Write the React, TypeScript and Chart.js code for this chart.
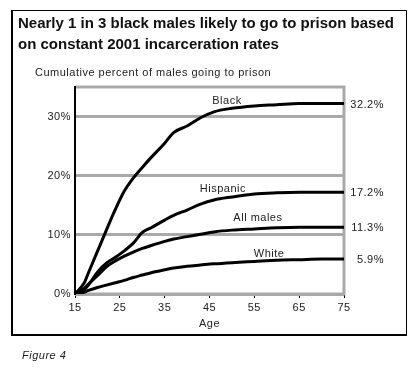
import React, { useEffect, useRef } from "react";
import { Chart, registerables } from "chart.js";

Chart.register(...registerables);

const ages = [15, 17, 18, 20, 22, 24, 26, 28, 30, 32, 35, 37, 40, 43, 46, 50, 55, 60, 65, 70, 75];
const black = [0, 1.8, 3.6, 7.2, 10.8, 14.3, 17.4, 19.6, 21.4, 23.1, 25.5, 27.3, 28.4, 29.8, 30.8, 31.4, 31.8, 32.0, 32.2, 32.2, 32.2];
const hispanic = [0, 0.7, 1.5, 3.7, 5.2, 6.2, 7.3, 8.6, 10.4, 11.2, 12.5, 13.3, 14.2, 15.2, 15.9, 16.4, 16.9, 17.1, 17.2, 17.2, 17.2];
const allMales = [0, 0.9, 1.7, 3.1, 4.6, 5.6, 6.4, 7.1, 7.7, 8.2, 8.9, 9.3, 9.7, 10.1, 10.5, 10.8, 11.0, 11.2, 11.3, 11.3, 11.3];
const white = [0, 0.3, 0.6, 1.1, 1.5, 1.9, 2.3, 2.8, 3.2, 3.6, 4.1, 4.4, 4.7, 4.9, 5.1, 5.3, 5.5, 5.7, 5.8, 5.9, 5.9];

const seriesNames = ["Black", "Hispanic", "All males", "White"];
const seriesValues = [black, hispanic, allMales, white];
const endLabels = ["32.2%", "17.2%", "11.3%", "5.9%"];
// label anchors in data units (age, percent)
const labelAges = [48.9, 48.0, 55.8, 58.3];
const labelPcts = [32.6, 17.7, 12.8, 6.8];

const xTicks = [15, 25, 35, 45, 55, 65, 75];
const yTicks = [0, 10, 20, 30];

const titleLines = [
  "Nearly 1 in 3 black males likely to go to prison based",
  "on constant 2001 incarceration rates",
];
const subtitle = "Cumulative percent of males going to prison";
const xTitle = "Age";
const figureLabel = "Figure 4";

const FONT = "Arial, 'Liberation Sans', sans-serif";
const GRAY = "#a9a9a9";

export default function App() {
  const ref = useRef<HTMLCanvasElement | null>(null);
  useEffect(() => {
    if (!ref.current) return;
    const framePlugin = {
      id: "frame",
      beforeDraw(chart: any) {
        (chart.ctx as any).letterSpacing = "0.5px";
      },
      beforeDatasetsDraw(chart: any) {
        const { ctx, chartArea: a } = chart;
        ctx.save();
        ctx.strokeStyle = GRAY;
        ctx.lineWidth = 3;
        ctx.beginPath();
        ctx.moveTo(a.left, a.top);
        ctx.lineTo(a.right, a.top);
        ctx.lineTo(a.right, a.bottom);
        ctx.lineTo(a.left, a.bottom);
        ctx.stroke();
        ctx.strokeStyle = "#000";
        ctx.lineWidth = 2;
        ctx.beginPath();
        ctx.moveTo(a.left, a.top - 1);
        ctx.lineTo(a.left, a.bottom + 1);
        ctx.stroke();
        ctx.restore();
      },
      afterDraw(chart: any) {
        const { ctx } = chart;
        const xs = chart.scales.x;
        const ys = chart.scales.y;
        ctx.save();
        // outer border
        ctx.strokeStyle = "#000";
        ctx.lineWidth = 1;
        ctx.beginPath();
        ctx.moveTo(12, 10.5);
        ctx.lineTo(406.5, 10.5);
        ctx.lineTo(406.5, 335);
        ctx.stroke();
        ctx.lineWidth = 2;
        ctx.beginPath();
        ctx.moveTo(12, 10);
        ctx.lineTo(12, 335);
        ctx.lineTo(407, 335);
        ctx.stroke();
        // title
        ctx.letterSpacing = "0px";
        ctx.fillStyle = "#111";
        ctx.textAlign = "left";
        ctx.textBaseline = "alphabetic";
        ctx.font = `bold 15px ${FONT}`;
        ctx.fillText(titleLines[0], 18, 28);
        ctx.fillText(titleLines[1], 18, 48.5);
        ctx.letterSpacing = "0.5px";
        ctx.font = `11px ${FONT}`;
        ctx.fillStyle = "#222";
        ctx.fillText(subtitle, 35, 76);
        // figure label
        ctx.font = `italic 11px ${FONT}`;
        ctx.fillText(figureLabel, 22, 359);
        // x title
        ctx.font = `11px ${FONT}`;
        ctx.textAlign = "center";
        ctx.textBaseline = "middle";
        ctx.fillText(xTitle, (xs.left + xs.right) / 2, 324);
        // series labels
        for (let i = 0; i < seriesNames.length; i++) {
          ctx.textAlign = "center";
          ctx.fillText(seriesNames[i], xs.getPixelForValue(labelAges[i]), ys.getPixelForValue(labelPcts[i]));
        }
        // end labels
        ctx.textAlign = "right";
        for (let i = 0; i < endLabels.length; i++) {
          const v = seriesValues[i][seriesValues[i].length - 1];
          ctx.fillText(endLabels[i], 384, ys.getPixelForValue(v) + 1);
        }
        ctx.restore();
      },
    };

    const chart = new Chart(ref.current, {
      type: "line",
      data: {
        datasets: seriesNames.map((name, i) => ({
          label: name,
          data: ages.map((a, j) => ({ x: a, y: seriesValues[i][j] })),
          borderColor: "#000",
          borderWidth: 3,
          pointRadius: 0,
          cubicInterpolationMode: "monotone" as const,
          fill: false,
        })),
      },
      options: {
        responsive: false,
        animation: false,
        layout: { padding: { left: 0, top: 87, right: 74, bottom: 63 } },
        plugins: { legend: { display: false }, tooltip: { enabled: false }, title: { display: false } },
        scales: {
          x: {
            type: "linear",
            min: 15,
            max: 75,
            afterBuildTicks: (s: any) => {
              s.ticks = xTicks.map((v) => ({ value: v }));
            },
            afterFit: (s: any) => {
              s.height = 20;
            },
            grid: { drawOnChartArea: false, drawTicks: true, tickLength: 4, color: "#000", lineWidth: 1 },
            border: { display: false },
            ticks: { padding: 3, maxRotation: 0, autoSkip: false, color: "#222", font: { family: FONT, size: 11 } },
          },
          y: {
            min: 0,
            max: 35,
            afterBuildTicks: (s: any) => {
              s.ticks = yTicks.map((v) => ({ value: v }));
            },
            afterFit: (s: any) => {
              s.width = 75;
            },
            grid: { color: GRAY, lineWidth: 3, drawTicks: false },
            border: { display: false },
            ticks: {
              padding: 4,
              color: "#222",
              font: { family: FONT, size: 11 },
              callback: (v: any) => `${v}%`,
            },
          },
        },
      },
      plugins: [framePlugin],
    });
    return () => chart.destroy();
  }, []);

  return (
    <div style={{ position: "fixed", left: 0, top: 0, width: 418, height: 377, background: "#fff" }}>
      <canvas ref={ref} width={418} height={377} style={{ display: "block", width: 418, height: 377 }} />
    </div>
  );
}
